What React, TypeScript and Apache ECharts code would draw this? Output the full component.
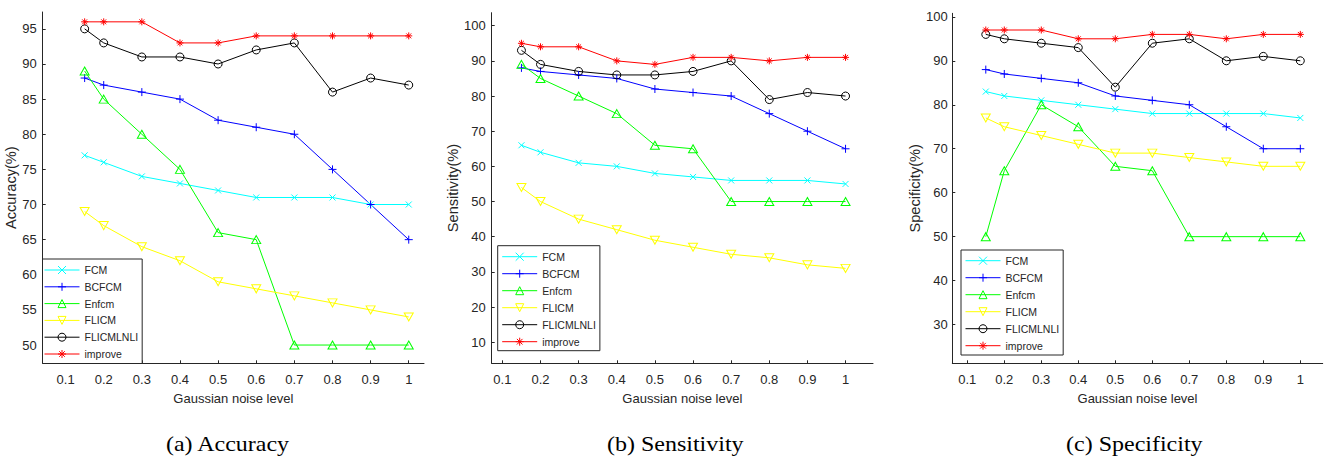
import React, { useEffect, useRef } from "react";
import * as echarts from "echarts";

// ---------- data ----------
const noiseLevels = [0.15, 0.2, 0.3, 0.4, 0.5, 0.6, 0.7, 0.8, 0.9, 1.0];
const xTickValues = [0.1, 0.2, 0.3, 0.4, 0.5, 0.6, 0.7, 0.8, 0.9, 1];
const yTicksAccuracy = [50, 55, 60, 65, 70, 75, 80, 85, 90, 95];
const yTicksSensitivity = [10, 20, 30, 40, 50, 60, 70, 80, 90, 100];
const yTicksSpecificity = [30, 40, 50, 60, 70, 80, 90, 100];

const seriesNames = ["FCM", "BCFCM", "Enfcm", "FLICM", "FLICMLNLI", "improve"];

// (a) Accuracy
const accFCM = [77, 76, 74, 73, 72, 71, 71, 71, 70, 70];
const accBCFCM = [88, 87, 86, 85, 82, 81, 80, 75, 70, 65];
const accEnfcm = [89, 85, 80, 75, 66, 65, 50, 50, 50, 50];
const accFLICM = [69, 67, 64, 62, 59, 58, 57, 56, 55, 54];
const accFLICMLNLI = [95, 93, 91, 91, 90, 92, 93, 86, 88, 87];
const accImprove = [96, 96, 96, 93, 93, 94, 94, 94, 94, 94];

// (b) Sensitivity
const senFCM = [66, 64, 61, 60, 58, 57, 56, 56, 56, 55];
const senBCFCM = [88, 87, 86, 85, 82, 81, 80, 75, 70, 65];
const senEnfcm = [89, 85, 80, 75, 66, 65, 50, 50, 50, 50];
const senFLICM = [54, 50, 45, 42, 39, 37, 35, 34, 32, 31];
const senFLICMLNLI = [93, 89, 87, 86, 86, 87, 90, 79, 81, 80];
const senImprove = [95, 94, 94, 90, 89, 91, 91, 90, 91, 91];

// (c) Specificity
const speFCM = [83, 82, 81, 80, 79, 78, 78, 78, 78, 77];
const speBCFCM = [88, 87, 86, 85, 82, 81, 80, 75, 70, 70];
const speEnfcm = [50, 65, 80, 75, 66, 65, 50, 50, 50, 50];
const speFLICM = [77, 75, 73, 71, 69, 69, 68, 67, 66, 66];
const speFLICMLNLI = [96, 95, 94, 93, 84, 94, 95, 90, 91, 90];
const speImprove = [97, 97, 97, 95, 95, 96, 96, 95, 96, 96];

const xAxisTitle = "Gaussian noise level";
const yAxisTitles = ["Accuracy(%)", "Sensitivity(%)", "Specificity(%)"];
const captions = ["(a) Accuracy", "(b) Sensitivity", "(c) Specificity"];

// ---------- styles ----------
const AX = "#262626";
const SANS = "'Liberation Sans', Arial, sans-serif";
const SERIF = "'Liberation Serif', 'Times New Roman', serif";

const seriesColors = ["#00FFFF", "#0000FF", "#00FF00", "#FFFF00", "#000000", "#FF0000"];
const seriesSymbols = [
  "path://M0,0L10,10M10,0L0,10",
  "path://M5,0L5,10M0,5L10,5",
  "triangle",
  "path://M0,0L10,0L5,8.66Z",
  "circle",
  "path://M5,0L5,10M0,5L10,5M1.5,1.5L8.5,8.5M8.5,1.5L1.5,8.5",
];
const seriesSymbolSizes: any[] = [6, 8, [9, 8], [9, 8], 8, 7];

const panels = [
  {
    grid: { left: 42.7, top: 12, width: 381.3, height: 351.3 },
    xRange: [0.04, 1.04],
    yRange: [47.4, 97.4],
    yTicks: yTicksAccuracy,
    yNameGap: 21,
    yLabelMargin: 6,
    legend: { left: 42.5, top: 259, padding: [4.5, 4, 3, 1.5], itemGap: 3.8 },
    values: [accFCM, accBCFCM, accEnfcm, accFLICM, accFLICMLNLI, accImprove],
    captionX: 227.5,
  },
  {
    grid: { left: 491.7, top: 12.7, width: 381.3, height: 350.6 },
    xRange: [0.072, 1.072],
    yRange: [4.0, 103.7],
    yTicks: yTicksSensitivity,
    yNameGap: 30,
    yLabelMargin: 6,
    legend: { left: 497.7, top: 245.7, padding: [4.5, 4, 2.5, 4], itemGap: 4 },
    values: [senFCM, senBCFCM, senEnfcm, senFLICM, senFLICMLNLI, senImprove],
    captionX: 675.3,
  },
  {
    grid: { left: 952.3, top: 13.3, width: 370.4, height: 350 },
    xRange: [0.0595, 1.0605],
    yRange: [21.2, 100.8],
    yTicks: yTicksSpecificity,
    yNameGap: 27,
    yLabelMargin: 4.5,
    legend: { left: 961, top: 250, padding: [4.2, 4, 2.8, 4], itemGap: 4 },
    values: [speFCM, speBCFCM, speEnfcm, speFLICM, speFLICMLNLI, speImprove],
    captionX: 1134.3,
  },
];

function buildOption() {
  const grid: any[] = [];
  const xAxis: any[] = [];
  const yAxis: any[] = [];
  const series: any[] = [];
  const legend: any[] = [];
  const graphic: any[] = [];

  panels.forEach((p, g) => {
    grid.push({ ...p.grid, containLabel: false });
    xAxis.push({
      type: "value",
      gridIndex: g,
      min: p.xRange[0],
      max: p.xRange[1],
      name: xAxisTitle,
      nameLocation: "middle",
      nameGap: 29,
      nameTextStyle: { color: AX, fontSize: 13, fontFamily: SANS },
      axisLine: { show: true, onZero: false, lineStyle: { color: AX, width: 1 } },
      axisTick: { show: true, inside: true, length: 3, customValues: xTickValues, lineStyle: { color: AX, width: 1 } },
      axisLabel: { show: true, customValues: xTickValues, margin: 10, color: AX, fontSize: 13, fontFamily: SANS },
      splitLine: { show: false },
    });
    yAxis.push({
      type: "value",
      gridIndex: g,
      min: p.yRange[0],
      max: p.yRange[1],
      name: yAxisTitles[g],
      nameLocation: "middle",
      nameGap: p.yNameGap,
      nameTextStyle: { color: AX, fontSize: 14.6, fontFamily: SANS },
      axisLine: { show: true, onZero: false, lineStyle: { color: AX, width: 1 } },
      axisTick: { show: true, inside: true, length: 3, customValues: p.yTicks, lineStyle: { color: AX, width: 1 } },
      axisLabel: { show: true, customValues: p.yTicks, margin: p.yLabelMargin, color: AX, fontSize: 13, fontFamily: SANS },
      splitLine: { show: false },
    });
    seriesNames.forEach((name, k) => {
      series.push({
        type: "line",
        name,
        xAxisIndex: g,
        yAxisIndex: g,
        data: noiseLevels.map((x, i) => [x, p.values[k][i]]),
        symbol: seriesSymbols[k],
        symbolSize: seriesSymbolSizes[k],
        showSymbol: true,
        showAllSymbol: true,
        lineStyle: { color: seriesColors[k], width: 1 },
        itemStyle: { color: "none", borderColor: seriesColors[k], borderWidth: 1 },
        emphasis: { disabled: true },
        silent: true,
      });
    });
    legend.push({
      show: true,
      data: seriesNames,
      orient: "vertical",
      left: p.legend.left,
      top: p.legend.top,
      padding: p.legend.padding,
      itemGap: p.legend.itemGap,
      itemWidth: 35,
      itemHeight: 10,
      borderColor: AX,
      borderWidth: 1,
      borderRadius: 0,
      backgroundColor: "#ffffff",
      selectedMode: false,
      z: 10,
      itemStyle: { borderWidth: 1 },
      lineStyle: { width: 1 },
      textStyle: { color: AX, fontSize: 10.5, fontFamily: SANS, lineHeight: 10 },
    });
    graphic.push({
      type: "text",
      x: p.captionX,
      y: 444,
      scaleX: 1.2,
      silent: true,
      style: {
        text: captions[g],
        fill: "#000000",
        fontSize: 20,
        fontFamily: SERIF,
        align: "center",
        verticalAlign: "middle",
        textAlign: "center",
        textVerticalAlign: "middle",
      },
    });
  });

  return {
    animation: false,
    backgroundColor: "#ffffff",
    grid,
    xAxis,
    yAxis,
    series,
    legend,
    graphic,
  };
}

export default function App() {
  const ref = useRef<HTMLDivElement>(null);
  useEffect(() => {
    if (!ref.current) return;
    const chart = echarts.init(ref.current, null, { renderer: "svg" });
    chart.setOption(buildOption() as any);
    return () => chart.dispose();
  }, []);
  return (
    <div
      ref={ref}
      style={{ position: "absolute", left: 0, top: 0, width: 1333, height: 465 }}
    />
  );
}
